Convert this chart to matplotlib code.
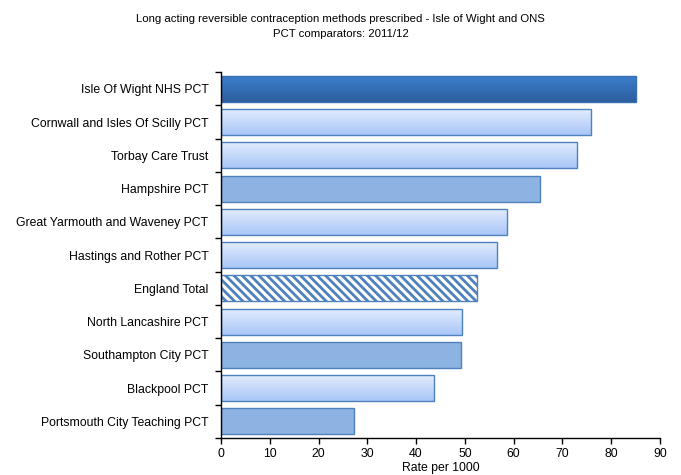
import numpy as np
import matplotlib
matplotlib.use("Agg")
import matplotlib.pyplot as plt
from matplotlib.colors import LinearSegmentedColormap

plt.rcParams["font.family"] = ["Liberation Sans", "DejaVu Sans"]
plt.rcParams["hatch.linewidth"] = 2.0

categories = [
    "Isle Of Wight NHS PCT",
    "Cornwall and Isles Of Scilly PCT",
    "Torbay Care Trust",
    "Hampshire PCT",
    "Great Yarmouth and Waveney PCT",
    "Hastings and Rother PCT",
    "England Total",
    "North Lancashire PCT",
    "Southampton City PCT",
    "Blackpool PCT",
    "Portsmouth City Teaching PCT",
]
rates = [85.2, 75.9, 73.1, 65.5, 58.6, 56.6, 52.4, 49.5, 49.2, 43.7, 27.2]
# style group per bar: main, light, solid, england
groups = ["main", "light", "light", "solid", "light", "light",
          "england", "light", "solid", "light", "solid"]

edge = "#4f81bd"
grad_light = LinearSegmentedColormap.from_list("light", ["#e2ecfd", "#a8c6f7"])
grad_main = LinearSegmentedColormap.from_list("main", ["#3b7fcd", "#2d5d9c"])

fig = plt.figure(figsize=(6.81, 4.75), dpi=100)
ax = fig.add_axes([0.3245, 0.078, 0.6445, 0.77])

y = np.arange(len(categories))
bars = ax.barh(y, rates, height=0.78, color="white", edgecolor=edge, linewidth=1.0)

ax.set_xlim(0, 90)
ax.set_ylim(len(categories) - 0.5, -0.5)

grad = np.linspace(0, 1, 64).reshape(-1, 1)
for bar, g in zip(bars, groups):
    x0, y0 = bar.get_x(), bar.get_y()
    w, h = bar.get_width(), bar.get_height()
    if g == "solid":
        bar.set_facecolor("#8db3e2")
    elif g == "england":
        bar.set_facecolor("white")
        bar.set_hatch("\\\\\\\\")
        bar.set_edgecolor(edge)
    else:
        cmap = grad_main if g == "main" else grad_light
        im = ax.imshow(grad, extent=[x0, x0 + w, y0 + h, y0], aspect="auto",
                       cmap=cmap, origin="upper", zorder=bar.get_zorder() - 0.1,
                       interpolation="bicubic")
        im.set_clip_path(bar)
        bar.set_facecolor("none")
        if g == "main":
            bar.set_edgecolor("#3a6fb0")

ax.set_xlim(0, 90)
ax.set_ylim(len(categories) - 0.5, -0.5)

ax.set_yticks(y)
ax.set_yticklabels(categories, fontsize=8.8)
ax.set_yticks(np.arange(len(categories) + 1) - 0.5, minor=True)
ax.tick_params(axis="y", which="major", length=0, pad=9)
ax.tick_params(axis="y", which="minor", length=4, width=1)
ax.set_xticks(np.arange(0, 91, 10))
ax.tick_params(axis="x", labelsize=8.8, length=4, width=1)
ax.set_xlabel("Rate per 1000", fontsize=8.8, labelpad=1)

for s in ["top", "right"]:
    ax.spines[s].set_visible(False)
for s in ["left", "bottom"]:
    ax.spines[s].set_linewidth(1.0)

fig.text(0.5, 0.97,
         "Long acting reversible contraception methods prescribed - Isle of Wight and ONS\nPCT comparators: 2011/12",
         ha="center", va="top", fontsize=8.2, linespacing=1.6)

fig.savefig("out.png", dpi=100)
